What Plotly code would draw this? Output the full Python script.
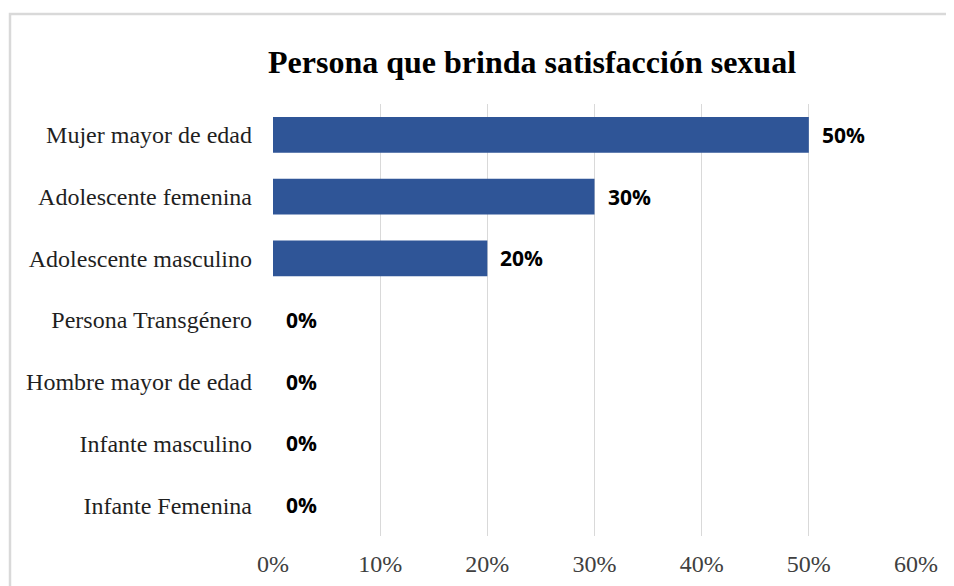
import plotly.graph_objects as go

categories = ["Mujer mayor de edad", "Adolescente femenina", "Adolescente masculino",
              "Persona Transgénero", "Hombre mayor de edad", "Infante masculino", "Infante Femenina"]
values = [0.50, 0.30, 0.20, 0.0, 0.0, 0.0, 0.0]
tick_vals = [0, 0.1, 0.2, 0.3, 0.4, 0.5, 0.6]
tick_text = ["0%", "10%", "20%", "30%", "40%", "50%", "60%"]
title = "Persona que brinda satisfacción sexual"

# page body adds an 8px margin, so the figure is drawn 8px smaller
W, H = 946, 578
L, R, T, B = 265, 38, 96, 50
pw = W - L - R
ph = H - T - B

fig = go.Figure()
fig.add_trace(go.Bar(
    y=categories, x=values, orientation="h",
    marker=dict(color="#2F5597", line=dict(width=0)),
    width=0.58, hoverinfo="skip",
))

for c, v in zip(categories, values):
    fig.add_annotation(
        x=v, y=c, xref="x", yref="y", text=f"<b>{round(v*100)}%</b>",
        showarrow=False, xanchor="left", yanchor="middle", xshift=11,
        font=dict(family="Open Sans, Noto Sans, sans-serif", size=21, color="#000000"),
    )

# chart border (light gray), extending past right/bottom edges
fig.add_shape(type="rect", xref="paper", yref="paper",
              x0=(2 - L) / pw, x1=(W + 10 - L) / pw,
              y0=-(H + 10 - T - ph) / ph, y1=1 + (T - 6) / ph,
              line=dict(color="#D9D9D9", width=2.5), fillcolor="rgba(0,0,0,0)", layer="below")

fig.update_layout(
    width=W, height=H,
    margin=dict(l=L, r=R, t=T, b=B),
    paper_bgcolor="white", plot_bgcolor="white",
    showlegend=False,
    title=dict(text=f"<b>{title}</b>", x=524 / W, xanchor="center",
               y=1 - 54 / H, yanchor="middle",
               font=dict(family="Liberation Serif, Times New Roman, serif", size=32, color="#000000")),
)
fig.update_xaxes(
    range=[0, 0.6], tickvals=tick_vals, ticktext=tick_text, automargin=False,
    showgrid=True, gridcolor="#D9D9D9", gridwidth=1, zeroline=False,
    showline=False, ticks="", ticklabelstandoff=11,
    tickfont=dict(family="Liberation Serif, Times New Roman, serif", size=24, color="#404040"),
    fixedrange=True,
)
fig.update_yaxes(
    categoryorder="array", categoryarray=categories, autorange="reversed", automargin=False,
    showgrid=False, zeroline=False, showline=False, ticks="", ticklabelstandoff=20,
    tickfont=dict(family="Liberation Serif, Times New Roman, serif", size=24, color="#1F1F1F"),
    fixedrange=True,
)

fig.write_html("out.html")
